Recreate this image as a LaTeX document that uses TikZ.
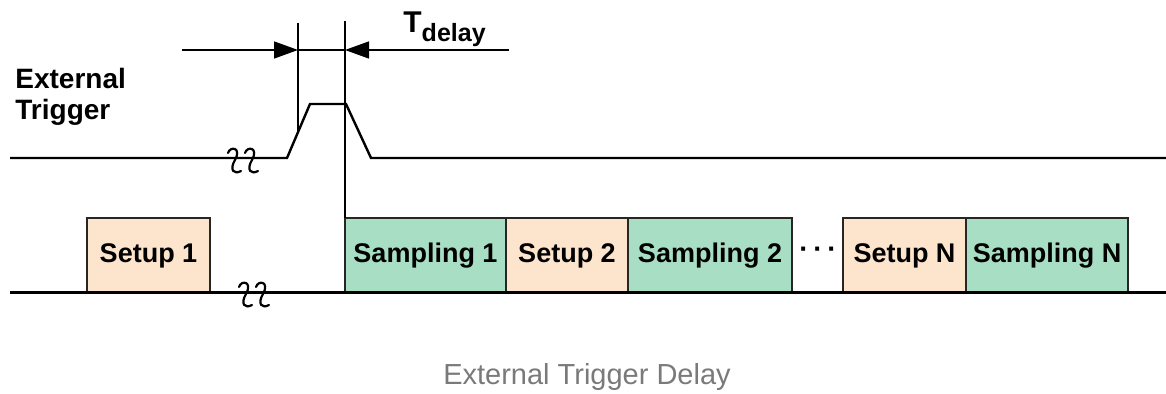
\documentclass[tikz,border=0pt]{standalone}
\usepackage{fontspec}
\setmainfont{Liberation Sans}
\usetikzlibrary{arrows.meta, positioning}
\definecolor{setupfill}{HTML}{FCE4CD}
\definecolor{samplefill}{HTML}{A8DEC4}
\definecolor{captiongray}{HTML}{7A7A7A}

\begin{document}
\begin{tikzpicture}[x=0.5pt, y=-0.5pt,
    phase/.style={rectangle, draw=black!85, line width=0.6pt, minimum height=37.5pt, inner sep=0pt, outer sep=0pt, font=\fontsize{13.5}{16}\selectfont\bfseries},
    setupbox/.style={phase, fill=setupfill, minimum width=61.5pt},
    samplebox/.style={phase, fill=samplefill, minimum width=81pt},
    signal/.style={line width=1.2pt},
    guide/.style={line width=0.7pt},
    dim/.style={line width=0.7pt, -{Triangle[length=12pt, width=8.5pt]}},
    breakmark/.style={line width=1.1pt, line cap=round}]
    \useasboundingbox (0,0) rectangle (1166,394);
    \node [setupbox] (setup1) at (148.5,255.5) {Setup 1};
    \node [samplebox, minimum width=80.5pt] (samp1) at (425.5,255.5) {Sampling 1};
    \node [setupbox, minimum width=61pt, right=0pt of samp1] (setup2) {Setup 2};
    \node [samplebox, minimum width=82pt, right=0pt of setup2] (samp2) {Sampling 2};
    \node [font=\fontsize{14}{16}\selectfont\bfseries] (dots) at (818,253) {·\,·\,·};
    \node [setupbox] (setupN) at (904.5,255.5) {Setup N};
    \node [samplebox, right=0pt of setupN] (sampN) {Sampling N};
    \node [anchor=north west, inner sep=0pt, align=left, font=\fontsize{14}{15.5}\selectfont\bfseries] (trig) at (15,68) {External\\Trigger};
    \node [anchor=base west, inner sep=0pt, font=\fontsize{15}{18}\selectfont\bfseries] (tdelay) at (403,33) {T\raisebox{-4.5pt}{\fontsize{12.5}{14}\selectfont delay}};
    \node [font=\fontsize{14.5}{17}\selectfont, text=captiongray] (caption) at (587,377) {External Trigger Delay};
    \draw [signal, line width=1.5pt] (10,293) -- (1166,293);
    \draw [signal] (10,158) -- (287,158) -- (310,104) -- (346,104) -- (371,158) -- (1166,158);
    \coordinate (rise) at (298,132);
    \coordinate (tl) at (298,50);
    \coordinate (tr) at (345,50);
    \draw [guide] (298,23) -- (rise);
    \draw [guide] (345,21) -- (samp1.north west);
    \draw [guide] (tl) -- (tr);
    \draw [dim] (182,50) -- (tl);
    \draw [dim] (509,50) -- (tr);
    \foreach \x/\y in {234/160, 251/160, 245/294, 262/294}
        \draw [breakmark] (\x-6,\y-7) .. controls (\x-4,\y-14) and (\x+8,\y-13) .. (\x+1,\y) .. controls (\x-5,\y+10) and (\x,\y+15) .. (\x+7,\y+11);
\end{tikzpicture}
\end{document}
